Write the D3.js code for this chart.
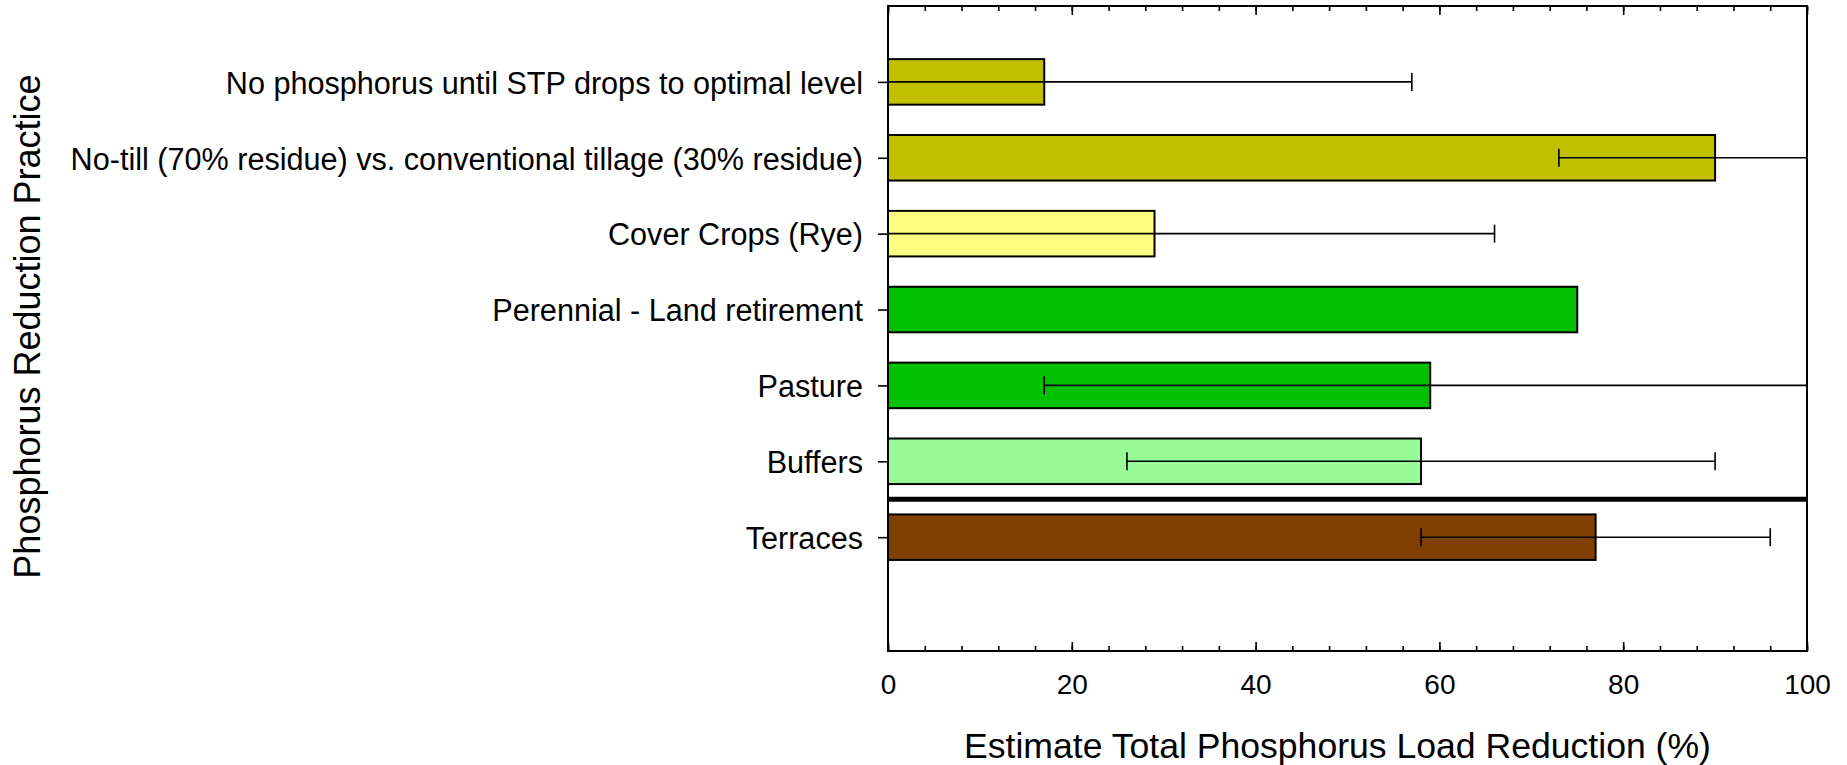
<!DOCTYPE html>
<meta charset="utf-8">
<style>

body {
  margin: 0;
  background: #fff;
}

text {
  font-family: Arial, "Liberation Sans", sans-serif;
  fill: #000;
}

.frame {
  fill: none;
  stroke: #000;
  stroke-width: 2px;
}

.bar {
  stroke: #000;
  stroke-width: 2px;
}

.err {
  fill: none;
  stroke: #000;
  stroke-width: 1.6px;
}

.divider {
  stroke: #000;
  stroke-width: 5px;
}

.axis path {
  display: none;
}

.axis line {
  stroke: #000;
  stroke-width: 1.6px;
}

</style>
<svg width="1847" height="765"></svg>
<script src="https://cdn.jsdelivr.net/npm/d3@7"></script>
<script>

// phosphorus reduction practices, top to bottom
var practices = [
  "No phosphorus until STP drops to optimal level",
  "No-till (70% residue) vs. conventional tillage (30% residue)",
  "Cover Crops (Rye)",
  "Perennial - Land retirement",
  "Pasture",
  "Buffers",
  "Terraces"
];

// estimated total phosphorus load reduction (%)
var reductions = [17, 90, 29, 75, 59, 58, 77];

// +/- error (%), null where none reported
var errors = [40, 17, 37, null, 42, 32, 19];

var barColors = ["#c0c000", "#c0c000", "#ffff80", "#00c000", "#00c000", "#98fb98", "#804000"];

var xTicks = [0, 20, 40, 60, 80, 100];

var svg = d3.select("svg"),
    plotLeft = 888,
    plotRight = 1807,
    plotTop = 6,
    plotBottom = 651;

var x = d3.scaleLinear()
    .domain([0, 100])
    .range([plotLeft, plotRight]);

// categories sit at 1..7, the plot runs 0..8.5
var y = d3.scaleLinear()
    .domain([0, 8.5])
    .range([plotTop, plotBottom]);

var barHeight = y(0.6) - y(0);

svg.append("clipPath")
    .attr("id", "clip")
  .append("rect")
    .attr("x", plotLeft)
    .attr("y", plotTop)
    .attr("width", plotRight - plotLeft)
    .attr("height", plotBottom - plotTop);

svg.selectAll(".bar")
    .data(reductions)
  .enter().append("rect")
    .attr("class", "bar")
    .attr("x", x(0))
    .attr("y", function(d, i) { return y(i + 1) - barHeight / 2; })
    .attr("width", function(d) { return x(d) - x(0); })
    .attr("height", barHeight)
    .style("fill", function(d, i) { return barColors[i]; });

var err = svg.append("g")
    .attr("clip-path", "url(#clip)")
  .selectAll("g")
    .data(reductions.map(function(d, i) { return {v: d, e: errors[i], i: i}; })
      .filter(function(d) { return d.e != null; }))
  .enter().append("g");

err.append("line")
    .attr("class", "err")
    .attr("x1", function(d) { return x(d.v - d.e); })
    .attr("x2", function(d) { return x(d.v + d.e); })
    .attr("y1", function(d) { return y(d.i + 1); })
    .attr("y2", function(d) { return y(d.i + 1); });

[-1, 1].forEach(function(s) {
  err.append("line")
      .attr("class", "err")
      .attr("x1", function(d) { return x(d.v + s * d.e); })
      .attr("x2", function(d) { return x(d.v + s * d.e); })
      .attr("y1", function(d) { return y(d.i + 1) - 9; })
      .attr("y2", function(d) { return y(d.i + 1) + 9; });
});

// thick rule between Buffers and Terraces
svg.append("line")
    .attr("class", "divider")
    .attr("x1", plotLeft)
    .attr("x2", plotRight)
    .attr("y1", y(6.5))
    .attr("y2", y(6.5));

// minor + major ticks, bottom and top
svg.append("g")
    .attr("class", "axis")
    .attr("transform", "translate(0," + plotBottom + ")")
    .call(d3.axisBottom(x).tickValues(d3.range(0, 101, 4)).tickSize(-5).tickFormat(""));

svg.append("g")
    .attr("class", "axis")
    .attr("transform", "translate(0," + plotBottom + ")")
    .call(d3.axisBottom(x).tickValues(xTicks).tickSize(-9).tickPadding(23))
    .selectAll("text")
    .style("font-size", "28px");

svg.append("g")
    .attr("class", "axis")
    .attr("transform", "translate(0," + plotTop + ")")
    .call(d3.axisTop(x).tickValues(d3.range(0, 101, 4)).tickSize(-5).tickFormat(""));

svg.append("g")
    .attr("class", "axis")
    .attr("transform", "translate(0," + plotTop + ")")
    .call(d3.axisTop(x).tickValues(xTicks).tickSize(-9).tickFormat(""));

var yAxis = svg.append("g")
    .attr("class", "axis")
    .attr("transform", "translate(" + plotLeft + ",0)")
    .call(d3.axisLeft(y)
      .tickValues(d3.range(1, practices.length + 1))
      .tickFormat(function(d) { return practices[d - 1]; })
      .tickSize(10)
      .tickPadding(15));

yAxis.selectAll("text")
    .style("font-size", "30.6px")
    .attr("dy", "0.37em");

svg.append("rect")
    .attr("class", "frame")
    .attr("x", plotLeft)
    .attr("y", plotTop)
    .attr("width", plotRight - plotLeft)
    .attr("height", plotBottom - plotTop);

svg.append("text")
    .attr("x", (plotLeft + plotRight) / 2 - 10)
    .attr("y", 758)
    .attr("text-anchor", "middle")
    .style("font-size", "35.6px")
    .text("Estimate Total Phosphorus Load Reduction (%)");

svg.append("text")
    .attr("transform", "translate(40," + ((plotTop + plotBottom) / 2 - 2) + ")rotate(-90)")
    .attr("text-anchor", "middle")
    .style("font-size", "36px")
    .text("Phosphorus Reduction Practice");

</script>
